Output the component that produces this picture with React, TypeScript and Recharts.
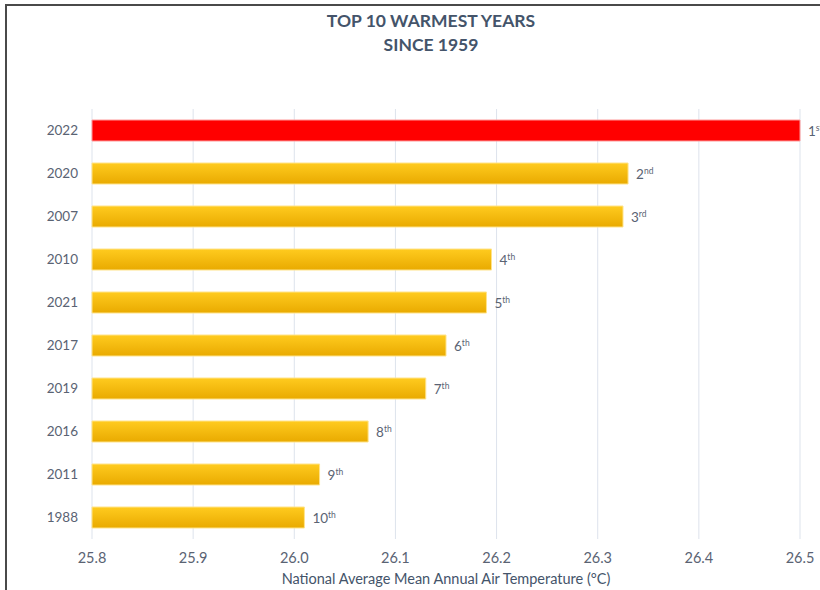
import { BarChart, Bar, XAxis, YAxis, CartesianGrid, Cell, LabelList } from 'recharts';

const years = ['2022', '2020', '2007', '2010', '2021', '2017', '2019', '2016', '2011', '1988'];
const temps = [26.5, 26.33, 26.325, 26.195, 26.19, 26.15, 26.13, 26.073, 26.025, 26.01];
const rankNums = ['1', '2', '3', '4', '5', '6', '7', '8', '9', '10'];
const rankSuffix = ['st', 'nd', 'rd', 'th', 'th', 'th', 'th', 'th', 'th', 'th'];
const xTicks = [25.8, 25.9, 26.0, 26.1, 26.2, 26.3, 26.4, 26.5];

const data = years.map((year, i) => ({ year, temp: temps[i], rank: rankNums[i], suffix: rankSuffix[i] }));

const FONT = 'Lato, "Open Sans", sans-serif';
const TEXT = '#5a6373';

// rank text with superscript suffix, right of each bar
function RankLabel(props: any) {
  const { x, y, width, height, index } = props;
  const d = data[index];
  if (!d) return null;
  return (
    <text x={x + width + 8} y={y + height / 2 + 5} fill={TEXT} fontSize={13.5} fontFamily={FONT}>
      {d.rank}
      <tspan fontSize={8.5} dy={-5}>{d.suffix}</tspan>
    </text>
  );
}

export default function App() {
  return (
    <div style={{ position: 'absolute', left: 0, top: 0, width: 820, height: 590, background: '#fff', overflow: 'hidden' }}>
      <div style={{ position: 'absolute', left: 5, top: 4, width: 815, height: 2, background: '#4a4a4a' }} />
      <div style={{ position: 'absolute', left: 5, top: 4, width: 2, height: 586, background: '#4a4a4a' }} />
      <div style={{ position: 'absolute', left: 0, top: 9, width: 862, textAlign: 'center', fontFamily: FONT, fontWeight: 700, fontSize: 17.5, lineHeight: '24px', color: '#44546a' }}>
        TOP 10 WARMEST YEARS
        <br />
        SINCE 1959
      </div>
      <BarChart
        width={820}
        height={590}
        data={data}
        layout="vertical"
        barSize={21}
        margin={{ top: 109, right: 20, bottom: 0, left: 0 }}
      >
        <defs>
          <linearGradient id="gold" x1="0" y1="0" x2="0" y2="1">
            <stop offset="0%" stopColor="#ffcb1f" />
            <stop offset="100%" stopColor="#e9aa00" />
          </linearGradient>
        </defs>
        <CartesianGrid horizontal={false} stroke="#dde3ec" />
        <XAxis
          type="number"
          domain={[25.8, 26.5]}
          ticks={xTicks}
          tickFormatter={(v: number) => v.toFixed(1)}
          axisLine={false}
          tickLine={false}
          tickMargin={8}
          height={51}
          tick={{ fill: TEXT, fontSize: 14.5, fontFamily: FONT }}
          label={{ value: 'National Average Mean Annual Air Temperature (°C)', position: 'insideBottom', offset: 6, fill: '#44546a', fontSize: 14.5, fontFamily: FONT }}
        />
        <YAxis
          type="category"
          dataKey="year"
          width={92}
          axisLine={false}
          tickLine={false}
          tickMargin={8}
          tick={{ fill: TEXT, fontSize: 13.5, fontFamily: FONT }}
        />
        <Bar dataKey="temp" isAnimationActive={false}>
          {data.map((d, i) => (
            <Cell key={d.year} fill={i === 0 ? '#ff0000' : 'url(#gold)'} stroke={i === 0 ? '#ff9a9a' : '#ffe38a'} strokeWidth={1} />
          ))}
          <LabelList content={<RankLabel />} />
        </Bar>
      </BarChart>
    </div>
  );
}
